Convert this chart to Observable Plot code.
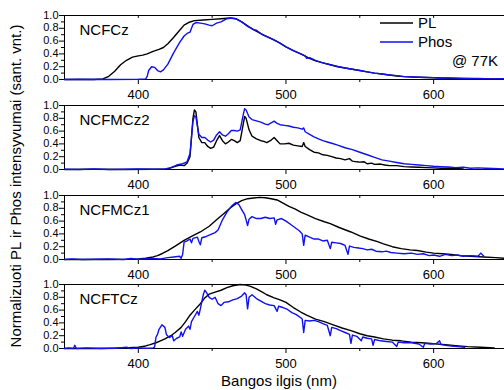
<!DOCTYPE html>
<html><head><meta charset="utf-8">
<script src="https://cdn.jsdelivr.net/npm/d3@7"></script>
<script src="https://cdn.jsdelivr.net/npm/@observablehq/plot@0.6"></script>
<style>
body{margin:0;background:#fff;}
#chart{position:relative;width:504px;height:390px;overflow:hidden;background:#fff;font-family:"Liberation Sans",Arial,sans-serif;}
#chart svg{position:absolute;left:0;}
</style></head><body><div id="chart"></div><script>
// ---- data ----
const panelNames = ["NCFCz", "NCFMCz2", "NCFMCz1", "NCFTCz"];
const seriesNames = ["PL", "Phos"];
const seriesColors = ["#000000", "#1010f0"];
const xTicks = [400, 500, 600];
const xMinorTicks = [450, 550];
const yTicks = [0, 0.2, 0.4, 0.6, 0.8, 1.0];
const yMinorTicks = [0.1, 0.3, 0.5, 0.7, 0.9];
const tempNote = "@ 77K";
const xTitle = "Bangos ilgis (nm)";
const yTitle = "Normalizuoti PL ir Phos intensyvumai (sant. vnt.)";

const ncfczPL = [[350,0],[370,0],[376,0.01],[380,0.05],[384,0.13],[388,0.23],[392,0.30],[396,0.35],[400,0.37],[403,0.38],[406,0.40],[410,0.44],[414,0.47],[417,0.50],[420,0.56],[424,0.66],[428,0.77],[431,0.85],[434,0.89],[438,0.92],[444,0.93],[450,0.94],[456,0.95],[462,0.96],[466,0.95],[470,0.90],[474,0.84],[478,0.78],[482,0.73],[486,0.68],[490,0.64],[495,0.58],[500,0.51],[505,0.45],[510,0.40],[515,0.34],[520,0.29],[525,0.26],[530,0.23],[535,0.20],[540,0.18],[545,0.16],[550,0.14],[555,0.12],[560,0.10],[565,0.085],[570,0.07],[575,0.055],[580,0.045],[590,0.035],[600,0.027],[610,0.02],[620,0.015],[635,0.01],[648,0.008]];
const ncfczPhos = [[350,0],[360,0.005],[380,0],[400,0.005],[405,0.01],[406,0.05],[407,0.14],[409,0.2],[411,0.19],[413,0.14],[415,0.12],[417,0.15],[420,0.24],[424,0.42],[428,0.58],[431,0.68],[433,0.72],[435,0.74],[437,0.86],[439,0.89],[442,0.88],[445,0.87],[448,0.85],[450,0.84],[453,0.88],[456,0.90],[460,0.95],[463,0.96],[466,0.95],[470,0.90],[474,0.83],[478,0.78],[480,0.77],[484,0.70],[488,0.66],[492,0.62],[496,0.57],[500,0.51],[505,0.45],[510,0.40],[513,0.37],[514,0.33],[516,0.34],[520,0.30],[525,0.26],[530,0.23],[535,0.205],[540,0.18],[545,0.16],[550,0.14],[555,0.12],[560,0.10],[565,0.085],[570,0.07],[575,0.06],[580,0.045],[590,0.035],[600,0.03],[605,0.02],[610,0.025],[620,0.015],[630,0.015],[640,0.01],[648,0.012]];

const ncfmcz2PL = [[350,0],[370,0.005],[390,0],[410,0.005],[420,0.01],[424,0.04],[428,0.07],[431,0.06],[433,0.10],[435,0.2],[436,0.5],[437,0.8],[438,0.93],[439,0.9],[440,0.7],[441,0.5],[443,0.42],[445,0.42],[447,0.36],[449,0.33],[451,0.35],[453,0.45],[455,0.53],[457,0.45],[459,0.40],[461,0.43],[463,0.47],[465,0.45],[467,0.42],[469,0.45],[471,0.70],[472,0.83],[473,0.80],[475,0.62],[477,0.52],[480,0.48],[483,0.45],[485,0.44],[487,0.42],[490,0.46],[492,0.50],[494,0.45],[496,0.40],[499,0.40],[502,0.41],[505,0.38],[508,0.37],[511,0.36],[512,0.42],[513,0.36],[516,0.31],[519,0.27],[522,0.26],[525,0.23],[528,0.22],[531,0.20],[534,0.18],[537,0.17],[540,0.15],[543,0.17],[545,0.13],[548,0.12],[550,0.115],[553,0.12],[555,0.09],[558,0.10],[560,0.08],[564,0.085],[567,0.07],[570,0.06],[575,0.06],[580,0.045],[585,0.04],[590,0.035],[595,0.03],[600,0.025],[605,0.02],[610,0.02],[615,0.015],[620,0.01]];
const ncfmcz2Phos = [[350,0.005],[360,0],[370,0.01],[380,0],[390,0.005],[400,0.01],[410,0.005],[418,0.01],[422,0.03],[426,0.07],[430,0.09],[433,0.12],[435,0.25],[436,0.5],[437,0.75],[438,0.84],[439,0.82],[440,0.68],[441,0.55],[443,0.50],[445,0.50],[447,0.46],[449,0.43],[451,0.46],[453,0.54],[455,0.59],[457,0.54],[459,0.52],[461,0.56],[463,0.61],[465,0.61],[467,0.60],[469,0.62],[471,0.85],[472,0.95],[473,0.93],[475,0.82],[477,0.78],[480,0.76],[483,0.74],[486,0.71],[488,0.70],[490,0.73],[492,0.755],[494,0.72],[496,0.70],[499,0.69],[502,0.68],[505,0.66],[508,0.65],[511,0.63],[512,0.65],[513,0.59],[516,0.55],[519,0.51],[522,0.48],[525,0.45],[528,0.43],[531,0.41],[535,0.38],[540,0.34],[545,0.31],[550,0.27],[555,0.23],[560,0.19],[565,0.15],[570,0.13],[575,0.11],[580,0.09],[585,0.08],[590,0.07],[595,0.06],[600,0.05],[605,0.045],[610,0.04],[615,0.03],[620,0.035],[625,0.02],[630,0.025],[635,0.02],[640,0.015],[648,0.01]];

const ncfmcz1PL = [[350,0],[380,0],[395,0.005],[400,0.01],[405,0.02],[410,0.04],[413,0.06],[416,0.09],[420,0.14],[425,0.21],[431,0.30],[436,0.36],[442,0.43],[448,0.52],[453,0.62],[458,0.72],[462,0.80],[466,0.87],[470,0.92],[474,0.95],[478,0.96],[482,0.97],[486,0.965],[490,0.95],[494,0.93],[498,0.88],[502,0.83],[506,0.79],[510,0.74],[514,0.70],[520,0.64],[526,0.59],[530,0.56],[536,0.50],[544,0.43],[550,0.37],[556,0.32],[562,0.28],[566,0.245],[572,0.20],[578,0.17],[584,0.15],[589,0.14],[595,0.115],[600,0.10],[606,0.09],[612,0.08],[618,0.06],[625,0.05],[634,0.04],[642,0.03],[648,0.02]];
const ncfmcz1Phos = [[350,0],[355,0.01],[362,0],[370,0.005],[380,0.01],[390,0],[395,0.015],[400,0.005],[405,0.01],[410,0.015],[415,0.01],[420,0.03],[424,0.04],[428,0.05],[429,0.02],[430,0.08],[431,0.27],[433,0.29],[435,0.32],[436,0.26],[437,0.33],[440,0.35],[441,0.28],[442,0.23],[443,0.34],[446,0.36],[448,0.38],[450,0.40],[452,0.42],[454,0.46],[457,0.62],[460,0.74],[463,0.83],[466,0.89],[468,0.86],[470,0.78],[472,0.70],[473,0.62],[474,0.53],[475,0.63],[477,0.67],[480,0.64],[483,0.64],[486,0.66],[489,0.64],[492,0.65],[493,0.55],[494,0.62],[497,0.64],[500,0.60],[503,0.55],[506,0.50],[509,0.45],[511,0.40],[512,0.22],[513,0.38],[516,0.35],[519,0.32],[522,0.32],[525,0.29],[528,0.30],[530,0.17],[531,0.27],[534,0.26],[537,0.25],[540,0.22],[542,0.08],[543,0.21],[546,0.19],[549,0.18],[552,0.17],[555,0.15],[558,0.16],[561,0.13],[565,0.12],[568,0.13],[571,0.11],[575,0.10],[580,0.09],[585,0.10],[589,0.08],[593,0.09],[597,0.06],[600,0.07],[604,0.05],[608,0.08],[612,0.06],[616,0.07],[620,0.05],[625,0.06],[630,0.05],[632,0.1],[634,0.05]];

const ncftczPL = [[350,0],[370,0],[380,0.005],[390,0.01],[400,0.02],[405,0.04],[408,0.06],[412,0.09],[415,0.12],[418,0.15],[422,0.20],[425,0.25],[429,0.33],[432,0.42],[435,0.52],[438,0.60],[442,0.70],[445,0.79],[448,0.85],[452,0.88],[456,0.91],[460,0.95],[464,0.98],[469,1.0],[473,0.99],[476,0.97],[480,0.93],[484,0.88],[487,0.84],[492,0.79],[496,0.76],[500,0.72],[505,0.64],[510,0.57],[514,0.52],[520,0.46],[526,0.42],[532,0.37],[538,0.32],[544,0.28],[550,0.23],[555,0.20],[560,0.18],[566,0.15],[572,0.13],[578,0.12],[585,0.10],[592,0.09],[600,0.075],[608,0.06],[615,0.045],[623,0.03],[632,0.02],[641,0.01]];
const ncftczPhos = [[350,0],[353,0.01],[356,0],[357,0.05],[358,0],[365,0.01],[375,0],[385,0.005],[392,0.02],[395,0],[400,0.01],[405,0.005],[410,0.01],[411,0.02],[412,0.18],[413,0.22],[414,0.30],[416,0.37],[418,0.33],[419,0.22],[421,0.17],[423,0.20],[424,0.12],[426,0.16],[428,0.18],[429,0.26],[430,0.19],[432,0.30],[434,0.35],[435,0.30],[436,0.42],[438,0.50],[440,0.58],[441,0.52],[442,0.62],[444,0.84],[445,0.91],[446,0.88],[448,0.80],[450,0.77],[452,0.80],[454,0.70],[456,0.67],[458,0.72],[461,0.73],[464,0.76],[467,0.78],[470,0.82],[472,0.87],[473,0.84],[474,0.62],[475,0.80],[477,0.84],[480,0.78],[483,0.74],[486,0.70],[489,0.68],[492,0.67],[494,0.58],[495,0.66],[498,0.64],[501,0.61],[504,0.56],[507,0.53],[510,0.48],[511,0.46],[512,0.25],[513,0.44],[516,0.43],[519,0.44],[522,0.42],[525,0.39],[528,0.36],[530,0.2],[531,0.33],[534,0.31],[537,0.28],[540,0.25],[543,0.22],[544,0.08],[545,0.21],[548,0.19],[551,0.12],[552,0.18],[555,0.16],[558,0.15],[559,0.05],[560,0.14],[564,0.12],[568,0.11],[572,0.10],[575,0.03],[576,0.10],[580,0.09],[585,0.09],[590,0.07],[593,0.02],[594,0.08],[598,0.07],[602,0.08],[604,0.12],[605,0.06],[608,0.05],[612,0.04],[616,0.03],[621,0.02]];

const plSeries = [ncfczPL, ncfmcz2PL, ncfmcz1PL, ncftczPL];
const phosSeries = [ncfczPhos, ncfmcz2Phos, ncfmcz1Phos, ncftczPhos];

// ---- drawing ----
const FONT = '"Liberation Sans", Arial, sans-serif';
const chart = document.getElementById("chart");
const panelTops = [0, 90, 180, 269];

panelNames.forEach((name, i) => {
  const svg = Plot.plot({
    width: 504, height: 120,
    marginLeft: 64, marginRight: 0, marginTop: 15, marginBottom: 41,
    style: {background: "transparent", overflow: "visible", fontFamily: FONT, fontSize: "13px", color: "black"},
    x: {domain: [350, 648]},
    y: {domain: [0, 1]},
    marks: [
      Plot.ruleY([0, 1], {stroke: "black", strokeWidth: 1}),
      Plot.ruleX([350], {stroke: "black", strokeWidth: 1}),
      Plot.axisY({ticks: yTicks, tickFormat: d3.format(".1f"), tickSize: 5, tickPadding: 1, label: null, fontSize: 11, lineHeight: 0.9}),
      Plot.ruleY(yMinorTicks, {x1: 350, x2: 350, insetLeft: -3, stroke: "black"}),
      Plot.axisX({ticks: xTicks, tickSize: 5, tickPadding: 5, label: null, fontSize: 13}),
      Plot.ruleX(xMinorTicks, {y1: 0, y2: 0, insetBottom: -3, stroke: "black"}),
      Plot.ruleX(xTicks.concat(xMinorTicks), {y1: 0.955, y2: 1, stroke: "black"}),
      Plot.line(plSeries[i], {x: d => d[0], y: d => d[1], stroke: seriesColors[0], strokeWidth: 1.4}),
      Plot.line(phosSeries[i], {x: d => d[0], y: d => d[1], stroke: seriesColors[1], strokeWidth: 1.4}),
      Plot.text([name], {frameAnchor: "top-left", dx: 15, dy: 15, lineAnchor: "middle", fontSize: 15, fill: "black"})
    ]
  });
  svg.style.top = panelTops[i] + "px";
  chart.appendChild(svg);
});

// overlay: legend, axis titles
const ov = d3.select(chart).append("svg")
  .attr("width", 504).attr("height", 390)
  .style("position", "absolute").style("top", "0px").style("left", "0px")
  .style("font-family", FONT);

seriesNames.forEach((s, k) => {
  const y = 23 + k * 19;
  ov.append("line").attr("x1", 380).attr("x2", 413).attr("y1", y).attr("y2", y)
    .attr("stroke", seriesColors[k]).attr("stroke-width", 1.5);
  ov.append("text").attr("x", 418).attr("y", y).attr("dy", "0.35em")
    .attr("font-size", 15).text(s);
});
ov.append("text").attr("x", 498).attr("y", 61).attr("dy", "0.35em")
  .attr("text-anchor", "end").attr("font-size", 15).text(tempNote);

ov.append("text").attr("x", 279).attr("y", 381).attr("dy", "0.35em")
  .attr("text-anchor", "middle").attr("font-size", 15).text(xTitle);

ov.append("text").attr("transform", "translate(16,186) rotate(-90)")
  .attr("dy", "0.35em").attr("text-anchor", "middle").attr("font-size", 15).text(yTitle);
</script></body></html>
